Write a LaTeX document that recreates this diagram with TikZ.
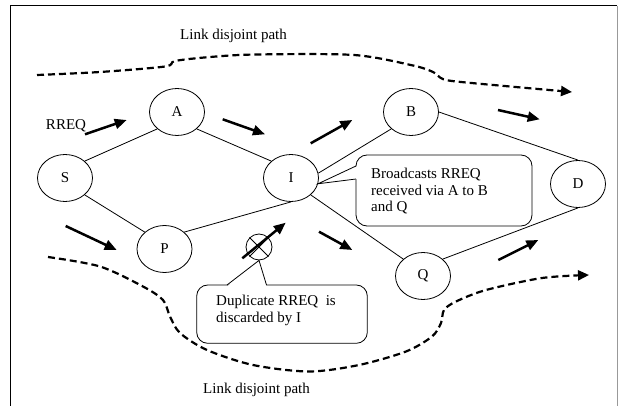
\documentclass[tikz,border=0pt]{standalone}
\usepackage{fontspec}
\setmainfont{Liberation Serif}
\usetikzlibrary{arrows.meta,shapes.geometric}
\begin{document}
\begin{tikzpicture}[x=1pt,y=-1pt,
  every node/.style={font=\fontsize{15}{16.5}\selectfont, inner sep=0pt},
  netnode/.style={draw, ellipse, minimum width=55pt, minimum height=47pt, inner sep=0pt, line width=0.8pt},
  link/.style={line width=0.8pt},
  flow/.style={line width=2.5pt, -{Triangle[length=12pt,width=10pt]}},
  disjoint/.style={line width=2.2pt, dash pattern=on 7pt off 4pt, -{Triangle[length=11pt,width=10pt]}},
  bubble/.style={draw, line width=0.8pt, rounded corners=11pt, fill=white},
  ]
\useasboundingbox (0,0) rectangle (618,406);
% frame
\draw[line width=1pt] (10.7,406) -- (10.7,5.7) -- (617,5.7);
\draw[line width=1pt, black!40] (617,5.7) -- (617,406);

% nodes
\node[netnode] (S) at (65,178) {S};
\node[netnode] (A) at (177,112) {A};
\node[netnode] (I) at (291,178) {I};
\node[netnode] (P) at (164.5,249) {P};
\node[netnode] (B) at (411,112) {B};
\node[netnode] (D) at (578,184) {D};
\node[netnode] (Q) at (423,276) {Q};
\node[draw, circle, minimum size=26pt, inner sep=0pt, line width=0.8pt] (X) at (259,247) {};
\draw[link] (X.north west) -- (X.south east) (X.north east) -- (X.south west);

% links
\draw[link] (S.north east) -- (A.south west);
\draw[link] (S.south east) -- (P.north west);
\draw[link] (A.south east) -- (I.north west);
\draw[link] (P.north east) -- (I.south);
\draw[link] (I.10) -- (B.south west);
\draw[link] (I.south east) -- (Q.north west);
\draw[link] (B.east) -- (D.north);
\draw[link] (Q.north east) -- (D.south);

% labels
\node (rreq) at (66,126) {RREQ};
\node[anchor=west] (ltop) at (180,36) {Link disjoint path};
\node[anchor=west] (lbot) at (203,390) {Link disjoint path};

% flow arrows
\coordinate (f1a) at (85,134.3);   \coordinate (f1b) at (126.7,120);
\coordinate (f2a) at (222.7,119.3); \coordinate (f2b) at (265,134.3);
\coordinate (f3a) at (65.7,226);   \coordinate (f3b) at (116.7,250);
\coordinate (f4a) at (242.3,258.3); \coordinate (f4b) at (285.7,222.7);
\coordinate (f5a) at (310.7,143.3); \coordinate (f5b) at (352.3,120);
\coordinate (f6a) at (498,110);    \coordinate (f6b) at (539.7,119.3);
\coordinate (f7a) at (319,231.7);  \coordinate (f7b) at (352.3,250);
\coordinate (f8a) at (498.3,260);  \coordinate (f8b) at (538.3,240);
\foreach \k in {1,...,8} {\draw[flow] (f\k a) -- (f\k b);}

% disjoint paths
\draw[disjoint] plot[smooth, tension=0.5] coordinates {(37,75) (100,72) (165,66.5) (175,61) (210,57) (256,54.5) (354,55) (413,65.5) (433,72) (440,77.5) (452,81) (510,86.5) (572,92)};
\draw[disjoint] plot[smooth, tension=0.5] coordinates {(48,257) (100,266.5) (143,286.5) (163,300) (170,316.5) (180,333) (207,350) (253,365) (309,371.5) (359,365) (406,351.5) (432,336.5) (441,323) (444,310) (456,301.5) (486,290) (542,278) (589,275)};

% callout: broadcasts
\draw[bubble] (356,155) rectangle (532,226);
\fill[white] (357.5,166) -- (I.-12) -- (357.5,179) -- cycle;
\draw[link] (356,166) -- (I.-12) -- (356,179);
\node[anchor=west, align=left] (bt) at (371,191.5) {Broadcasts RREQ\\received via A to B\\and Q};

% callout: duplicate
\draw[bubble] (196.7,285) rectangle (367.3,343.3);
\fill[white] (227,286.5) -- (X.south) -- (266.5,286.5) -- cycle;
\draw[link] (227,285) -- (X.south) -- (266.5,285);
\node[anchor=west, align=left] (dt) at (216,310.5) {Duplicate RREQ~ is\\discarded by I};
\end{tikzpicture}
\end{document}
